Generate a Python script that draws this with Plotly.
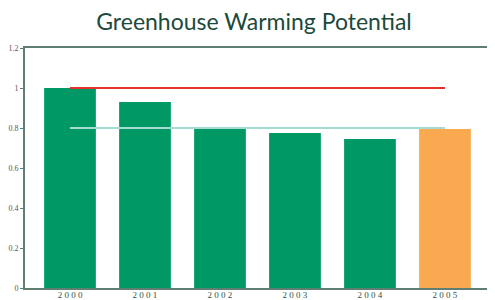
import plotly.graph_objects as go

years = ["2000", "2001", "2002", "2003", "2004", "2005"]
values = [1.0, 0.93, 0.80, 0.775, 0.745, 0.795]
bar_colors = ["#009966", "#009966", "#009966", "#009966", "#009966", "#F9A94F"]
baseline = [1.0] * 6
target = [0.8] * 6
y_ticks = [0, 0.2, 0.4, 0.6, 0.8, 1, 1.2]
y_tick_text = ["0", "0.2", "0.4", "0.6", "0.8", "1", "1.2"]

fig = go.Figure()
fig.add_trace(go.Bar(x=years, y=values, marker=dict(color=bar_colors, line=dict(width=0)),
                     width=0.69, showlegend=False))
fig.add_trace(go.Scatter(x=years, y=baseline, mode="lines",
                         line=dict(color="#E8302A", width=2), showlegend=False))
fig.add_trace(go.Scatter(x=years, y=target, mode="lines",
                         line=dict(color="#A4DCD2", width=2), showlegend=False))

# the page body adds an 8px offset, so margins are compensated
fig.update_layout(
    width=495, height=300,
    margin=dict(l=17, r=8, t=40, b=20, autoexpand=False),
    paper_bgcolor="white", plot_bgcolor="white",
    title=dict(text="Greenhouse Warming Potential", xref="container", x=0.497,
               xanchor="center", yref="container", y=0.953, yanchor="middle",
               font=dict(family="Lato", size=23, color="#1B4A3C")),
    xaxis=dict(type="category", range=[-0.6, 5.667], showgrid=False, automargin=False,
               showline=True, linecolor="#5F7F72", linewidth=2, mirror=True,
               ticks="", tickvals=years,
               ticktext=[" ".join(list(y)) for y in years],
               tickfont=dict(family="Liberation Serif", size=9, color="#2E5546"),
               ticklabelstandoff=-3),
    yaxis=dict(range=[0, 1.2], showgrid=False, zeroline=False, automargin=False,
               showline=True, linecolor="#5F7F72", linewidth=2,
               ticks="outside", ticklen=3, tickcolor="#5F7F72",
               tickvals=y_ticks, ticktext=y_tick_text,
               tickfont=dict(family="Liberation Serif", size=8, color="#555555")),
)

fig.write_html("out.html")
